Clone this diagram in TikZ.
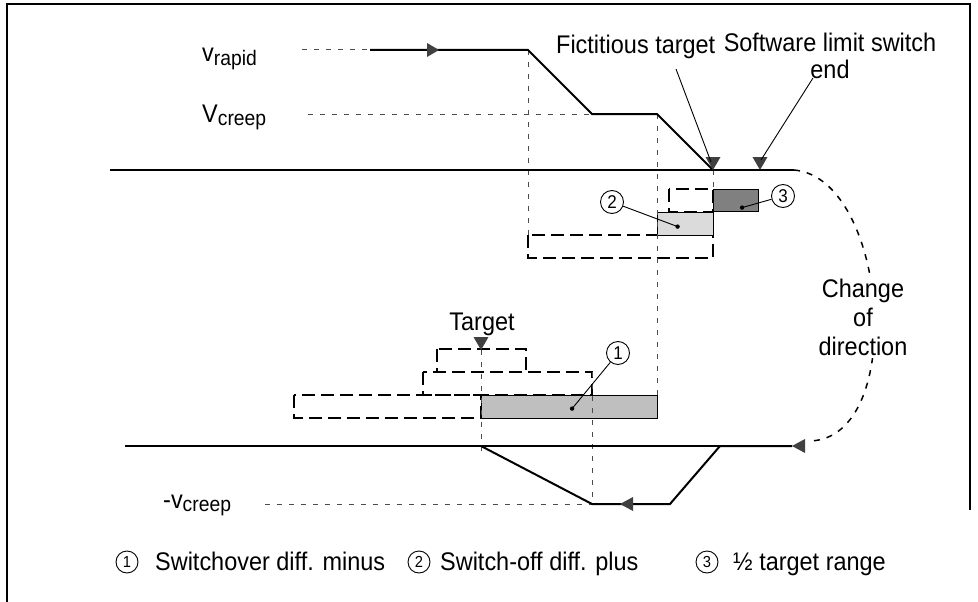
\documentclass[tikz,border=0pt]{standalone}
\usepackage{fontspec}
\setmainfont{Liberation Sans}[FakeStretch=0.92]
\usepackage{tikz}
\usetikzlibrary{arrows.meta,positioning,calc}
\tikzset{
	axisline/.style={line width=1.3pt},
	vprofile/.style={line width=2pt, line join=miter},
	guide/.style={black!70, line width=1pt, dash pattern=on 5pt off 7pt},
	rangebox/.style={line width=1.2pt, dash pattern=on 13pt off 6pt},
	fixbox/.style={draw, line width=1.2pt, inner sep=0pt, anchor=north west},
	pointer/.style={line width=0.9pt},
	lbl/.style={inner sep=0pt, font=\fontsize{25.5}{27}\selectfont},
	num/.style={circle, draw, line width=0.9pt, minimum size=23pt, inner sep=0pt,
		font=\fontsize{18.5}{18.5}\selectfont},
	tipgray/.style={fill=black!75},
	downmark/.pic={\fill[tipgray] (0,0) -- (-7.5,-13) -- (7.5,-13) -- cycle;},
	lefttip/.pic={\fill[tipgray] (0,0) -- (13,-7) -- (13,7) -- cycle;},
	righttip/.pic={\fill[tipgray] (0,0) -- (-12,-7) -- (-12,7) -- cycle;}
}
\newcommand{\lowidx}[1]{\raisebox{-3.5pt}{\fontsize{21}{21}\selectfont #1}}

\begin{document}
\begin{tikzpicture}[x=1pt, y=-1pt,
		keynum/.style={num, minimum size=22pt, font=\fontsize{16}{16}\selectfont},
		dirchange/.style={line width=1.5pt, dash pattern=on 6pt off 7pt},
		]
		\useasboundingbox (0,0) rectangle (978,602);
		
		%% -- Frame
		\draw[line width=1.2pt] (7,602) -- (7,4) -- (970,4) -- (970,510);
		
		%% -- Speed levels
		\node[lbl, anchor=base west] (vrapid) at (202,62) {v\lowidx{rapid}};
		\node[lbl, anchor=base west] (vcreep) at (202,122) {V\lowidx{creep}};
		\node[lbl, anchor=base west] (vneg) at (163,508) {-v\lowidx{creep}};
		
		%% -- Profile corners
		\coordinate (rA) at (370,50);
		\coordinate (rB) at (528,50);
		\coordinate (cA) at (592,114);
		\coordinate (cB) at (657,114);
		\coordinate (fict) at (713,170);
		\coordinate (swend) at (760,170);
		\coordinate (axL) at (110,170);
		\coordinate (axR) at (794,170);
		\coordinate (laxL) at (125,446);
		\coordinate (bA) at (792,446);
		\coordinate (bB) at (720,446);
		\coordinate (bC) at (670,504);
		\coordinate (bD) at (592,504);
		\coordinate (turn) at (481,446);
		\coordinate (tgtmark) at (481,350);
		
		%% -- Range windows (dashed)
		\draw[rangebox] (528,235) rectangle (713,258);
		\draw[rangebox] (669,189) rectangle (713,212);
		\draw[rangebox] (437,349) rectangle (526,372);
		\draw[rangebox] (423,372) rectangle (592,395);
		\draw[rangebox] (294,395) rectangle (481,418);
		
		%% -- Filled windows
		\node[fixbox, fill=black!14, minimum width=56pt, minimum height=23pt]
		(offplus) at (657,212) {};
		\node[fixbox, fill=black!50, minimum width=45pt, minimum height=22pt]
		(halfrange) at (713,189) {};
		\node[fixbox, fill=black!25, minimum width=176pt, minimum height=23pt]
		(overminus) at (481,395) {};
		
		%% -- Guide lines
		\draw[guide] (302,50) -- (rA);
		\draw[guide] (308,114) -- (cA);
		\draw[guide] (265,504) -- (bD);
		\draw[guide] (rB) -- (528,235);
		\draw[guide] (cB) -- (657,395);
		\draw[guide] (fict) -- (713,189);
		\draw[guide] (592,372) -- (bD);
		\draw[guide] (tgtmark) -- (481,455);
		
		%% -- Axes and travel profile
		\draw[axisline] (axL) -- (axR);
		\draw[axisline] (laxL) -- (bB);
		\draw[vprofile] (rA) -- (rB) -- (cA) -- (cB) -- (fict);
		\draw[vprofile] (bA) -- (bB) -- (bC) -- (bD) -- (turn);
		\pic at (439,50) {righttip};
		\pic at (620,504) {lefttip};
		\pic at (bA) {lefttip};
		
		%% -- Reversal
		\coordinate (curveEnd) at (810,441);
		\draw[dirchange] (axR) .. controls (888,178) and (908,438) .. (curveEnd);
		\node[lbl, align=center, fill=white, inner sep=3pt,
		font=\fontsize{25.5}{29}\selectfont] (chgdir) at (863,317)
		{Change\\of\\direction};
		
		%% -- Target markers
		\pic at (fict) {downmark};
		\pic at (swend) {downmark};
		\pic at (tgtmark) {downmark};
		
		\node[lbl, anchor=base west] (fictlbl) at (556,54) {Fictitious target};
		\node[lbl, align=center, anchor=north] (swlbl) at (830,32.5)
		{Software limit switch\\end};
		\node[lbl, anchor=base] (tgtlbl) at (482,330) {Target};
		
		\coordinate (fictptr) at (676,69);
		\coordinate (swptr) at (813,78);
		\draw[pointer] (fictptr) -- ($(fict)+(-2,-8)$);
		\draw[pointer] (swptr) -- ($(swend)+(1,-10)$);
		
		%% -- Numbered callouts
		\coordinate (d1) at ($(overminus.center)+(2.5,1.5)$);
		\coordinate (d2) at ($(offplus.center)+(-8,2.5)$);
		\coordinate (d3) at ($(halfrange.center)+(6,7)$);
		\fill (d1) circle[radius=2.2pt];
		\fill (d2) circle[radius=2.2pt];
		\fill (d3) circle[radius=2.2pt];
		
		\node[num] (n1) at (618,353) {1};
		\node[num] (n2) at (612,202) {2};
		\node[num] (n3) at (783,196) {3};
		\draw[pointer] (n1) -- (d1);
		\draw[pointer] (n2) -- (d2);
		\draw[pointer] (n3) -- (d3);
		
		%% -- Legend
		\node[keynum] (key1) at (127,562) {1};
		\node[lbl, anchor=base west] (key1txt) at (155,570) {Switchover diff. minus};
		\node[keynum] (key2) at (419,562) {2};
		\node[lbl, anchor=base west] (key2txt) at (440,570) {Switch-off diff. plus};
		\node[keynum] (key3) at (707,562) {3};
		\node[lbl, anchor=base west] (key3txt) at (733,570) {½ target range};
		
	\end{tikzpicture}
\end{document}
